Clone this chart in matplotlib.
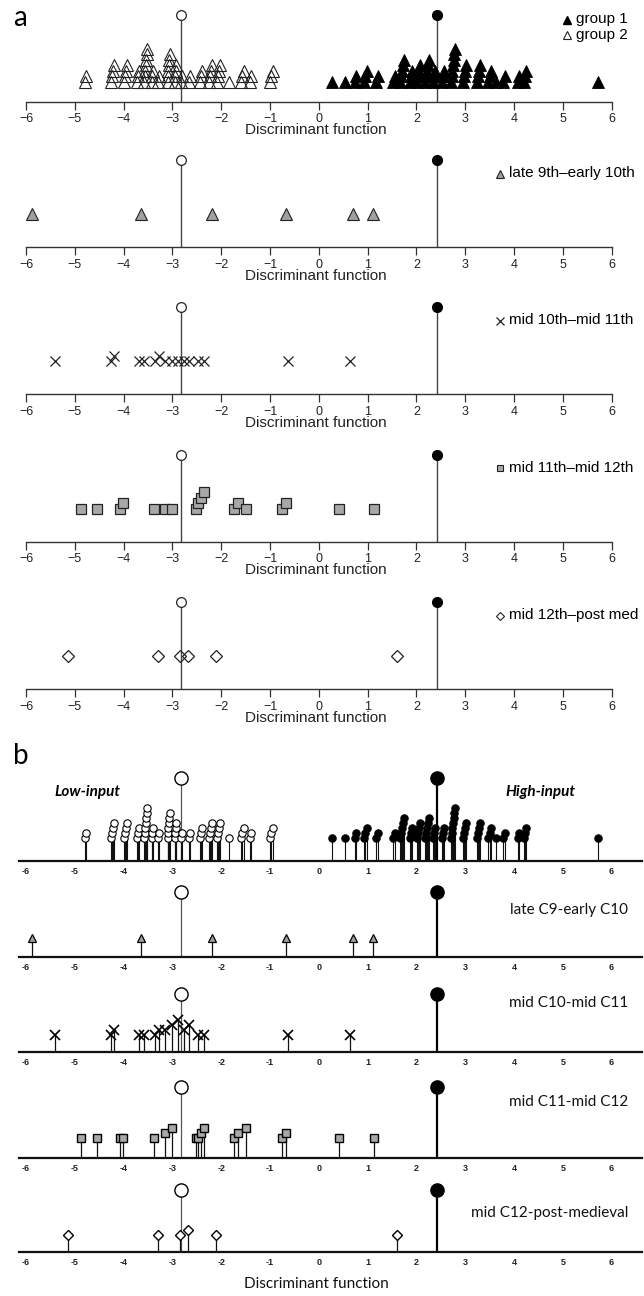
import numpy as np
import matplotlib
matplotlib.use("Agg")
import matplotlib.pyplot as plt

# ---------------- data ----------------
centroid_low = -2.83    # group 2 / low-input centroid
centroid_high = 2.42    # group 1 / high-input centroid

group1 = [0.28, 0.54, 0.74, 0.77, 0.92, 0.95, 0.98, 1.18, 1.22, 1.53, 1.56,
          1.66, 1.68, 1.70, 1.72, 1.74, 1.86, 1.88, 1.90, 2.01, 2.03, 2.05, 2.07,
          2.17, 2.19, 2.21, 2.23, 2.25, 2.35, 2.37, 2.39, 2.53, 2.55, 2.57,
          2.71, 2.72, 2.73, 2.75, 2.77, 2.78, 2.80, 2.95, 2.97, 2.99, 3.01,
          3.25, 3.27, 3.29, 3.31, 3.47, 3.50, 3.53, 3.63, 3.78, 3.81, 4.08, 4.11,
          4.21, 4.23, 4.25, 5.73]

group2 = [-4.80, -4.77, -4.25, -4.23, -4.21, -4.19, -4.00, -3.98, -3.96, -3.94,
          -3.72, -3.70, -3.68, -3.58, -3.57, -3.56, -3.55, -3.54, -3.53, -3.52,
          -3.42, -3.41, -3.40, -3.30, -3.28, -3.10, -3.09, -3.08, -3.07, -3.06,
          -3.05, -2.95, -2.94, -2.93, -2.92, -2.82, -2.80, -2.65, -2.63,
          -2.44, -2.42, -2.40, -2.24, -2.22, -2.20, -2.18, -2.08, -2.06, -2.04,
          -2.02, -1.83, -1.60, -1.57, -1.54, -1.42, -1.39, -1.00, -0.97, -0.94]

late9_early10 = [-5.87, -3.65, -2.18, -0.67, 0.70, 1.12]
mid10_mid11 = [-5.41, -4.26, -4.19, -3.69, -3.58, -3.36, -3.27, -3.16, -3.00,
               -2.88, -2.77, -2.65, -2.48, -2.36, -0.63, 0.64]
mid11_mid12 = [-4.88, -4.55, -4.08, -4.02, -3.37, -3.15, -3.00, -2.52, -2.47,
               -2.42, -2.36, -1.74, -1.66, -1.50, -0.75, -0.67, 0.41, 1.14]
mid12_post = [-5.14, -3.29, -2.85, -2.69, -2.10, 1.60]

# heights (levels) of the period points in panel b
late9_early10_lvl = [1, 1, 1, 1, 1, 1]
mid10_mid11_lvl = [1, 1, 2, 1, 1, 1, 2, 2, 3, 4, 2, 3, 1, 1, 1, 1]
mid11_mid12_lvl = [1, 1, 1, 1, 1, 2, 3, 1, 1, 2, 3, 1, 2, 3, 1, 2, 1, 1]
mid12_post_lvl = [1, 1, 1, 2, 1, 1]

tick_values = list(range(-6, 7))
a_tick_labels = ["\u2212%d" % -t if t < 0 else "%d" % t for t in tick_values]
b_tick_labels = ["%d" % t for t in tick_values]

a_period_labels = ["late 9th\u2013early 10th", "mid 10th\u2013mid 11th",
                   "mid 11th\u2013mid 12th", "mid 12th\u2013post med"]
b_period_labels = ["late C9-early C10", "mid C10-mid C11",
                   "mid C11-mid C12", "mid C12-post-medieval"]

# ---------------- layout ----------------
W, H = 644.0, 1296.0
X0_PX, UNIT_PX = 318.8, 48.8
XL = (-X0_PX / UNIT_PX, (W - X0_PX) / UNIT_PX)

A_BASE = [101.5, 247.0, 394.0, 541.5, 689.0]
B_BASE = [861.0, 957.0, 1052.0, 1158.0, 1252.0]
B_CENT_H = [83, 65, 58, 71, 62]
B_PT_BASE = [23, 19, 17, 20, 17]
B_LABEL_H = [None, 47, 49, 56, 39]

A_FONT = "Liberation Sans"
B_FONT = "Lato"

fig = plt.figure(figsize=(W / 100, H / 100), dpi=100)


def make_axes(baseline_px, height_px):
    ax = fig.add_axes([0, 1 - baseline_px / H, 1, height_px / H])
    ax.set_xlim(*XL)
    ax.set_ylim(0, height_px)
    ax.patch.set_alpha(0)
    for s in ("top", "left", "right"):
        ax.spines[s].set_visible(False)
    ax.set_yticks([])
    return ax


def stack_levels(values, gap=0.095):
    vals = np.asarray(values, float)
    order = np.argsort(vals, kind="stable")
    lv = np.zeros(len(vals), int)
    prev, k = None, 0
    for i in order:
        if prev is not None and vals[i] - prev < gap:
            k += 1
        else:
            k = 0
        lv[i] = k
        prev = vals[i]
    return lv


# ---------------- panel a ----------------
A_ROW, A_STEP, A_CENT = 33.0, 5.5, 87.0


def setup_a(ax):
    ax.spines["bottom"].set_bounds(-6, 6)
    ax.spines["bottom"].set_color("#333333")
    ax.spines["bottom"].set_linewidth(1.0)
    ax.set_xticks(tick_values)
    ax.set_xticklabels(a_tick_labels, fontsize=9, family=A_FONT, color="#222222")
    ax.tick_params(axis="x", length=5.4, width=0.9, pad=3.0, color="#333333")
    ax.vlines([centroid_low, centroid_high], 0, A_CENT, color="#444444", lw=1.0)
    ax.plot([centroid_low], [A_CENT], "o", ms=7, mfc="white", mec="#222222", mew=0.9)
    ax.plot([centroid_high], [A_CENT], "o", ms=7, mfc="black", mec="black")
    ax.text(-0.07, -29, "Discriminant function", ha="center", va="center",
            fontsize=11, family=A_FONT, color="#222222")


axes_a = [make_axes(b, 100.0) for b in A_BASE]

# a1: group 1 / group 2
ax = axes_a[0]
setup_a(ax)
g1 = np.array(group1)
g2 = np.array(group2)
ax.plot(g2, 20 + A_STEP * stack_levels(g2), "^", ms=8, mfc="none", mec="#222222",
        mew=0.8, ls="none")
ax.plot(g1, 20 + A_STEP * stack_levels(g1), "^", ms=8, mfc="black", mec="black",
        mew=0.6, ls="none")
ax.plot([5.08], [82], "^", ms=5.5, mfc="black", mec="black")
ax.text(5.28, 82, "group 1", ha="left", va="center", fontsize=11, family=A_FONT)
ax.plot([5.08], [66.5], "^", ms=5.5, mfc="none", mec="#222222", mew=0.8)
ax.text(5.28, 66.5, "group 2", ha="left", va="center", fontsize=11, family=A_FONT)
fig.text(13 / W, 1 - 26 / H, "a", fontsize=20, family=B_FONT, ha="left", va="baseline")

a_styles = [
    dict(marker="^", ms=8, mfc="#a0a0a0", mec="#222222", mew=0.8),
    dict(marker="x", ms=7.5, mec="#222222", mew=0.9),
    dict(marker="s", ms=6.8, mfc="#a8a8a8", mec="#222222", mew=0.9),
    dict(marker="D", ms=6.2, mfc="none", mec="#222222", mew=0.9),
]
legend_styles = [
    dict(marker="^", ms=5.5, mfc="#a0a0a0", mec="#222222", mew=0.8),
    dict(marker="x", ms=5.5, mec="#222222", mew=0.9),
    dict(marker="s", ms=4.8, mfc="#a8a8a8", mec="#222222", mew=0.8),
    dict(marker="D", ms=4.5, mfc="none", mec="#222222", mew=0.8),
]
periods = [late9_early10, mid10_mid11, mid11_mid12, mid12_post]
period_lvls = [late9_early10_lvl, mid10_mid11_lvl, mid11_mid12_lvl, mid12_post_lvl]

for i, (vals, lab) in enumerate(zip(periods, a_period_labels)):
    ax = axes_a[i + 1]
    setup_a(ax)
    v = np.array(vals)
    ax.plot(v, A_ROW + A_STEP * stack_levels(v, 0.095), ls="none", **a_styles[i])
    ax.plot([3.71], [73.5], ls="none", **legend_styles[i])
    ax.text(3.90, 73.5, lab, ha="left", va="center", fontsize=11, family=A_FONT)

# ---------------- panel b ----------------
B_STEP = 5.0


def setup_b(ax, k):
    ax.spines["bottom"].set_bounds(-6.15, 6.62)
    ax.spines["bottom"].set_color("#111111")
    ax.spines["bottom"].set_linewidth(1.6)
    ax.set_xticks(tick_values)
    ax.set_xticklabels(b_tick_labels, fontsize=6.5, fontweight="bold",
                       family="Liberation Sans", color="#222222")
    ax.tick_params(axis="x", length=0, pad=4.2)
    h = B_CENT_H[k]
    ax.vlines(centroid_low, 0, h, color="#555555", lw=0.9, zorder=2)
    ax.vlines(centroid_high, 0, h, color="black", lw=1.6, zorder=2)
    ax.plot([centroid_low], [h], "o", ms=9.5, mfc="white", mec="black", mew=1.0, zorder=4)
    ax.plot([centroid_high], [h], "o", ms=9.5, mfc="black", mec="black", zorder=4)


axes_b = [make_axes(b, 95.0) for b in B_BASE]

ax = axes_b[0]
setup_b(ax, 0)
for vals, fc in ((g2, "white"), (g1, "black")):
    y = B_PT_BASE[0] + B_STEP * stack_levels(vals)
    ax.vlines(vals, 0, y, color="#111111", lw=0.8, zorder=2)
    ax.plot(vals, y, "o", ms=5.3, mfc=fc, mec="black", mew=0.8, ls="none", zorder=3)
ax.text(-4.74, 69, "Low-input", ha="center", va="center", fontsize=11,
        family=B_FONT, fontweight="bold", fontstyle="italic")
ax.text(4.54, 69, "High-input", ha="center", va="center", fontsize=11,
        family=B_FONT, fontweight="bold", fontstyle="italic")
fig.text(13 / W, 1 - 764 / H, "b", fontsize=20, family=B_FONT, ha="left", va="baseline")

b_styles = [
    dict(marker="^", ms=6.2, mfc="#a0a0a0", mec="black", mew=0.9),
    dict(marker="x", ms=7.5, mec="black", mew=1.2),
    dict(marker="s", ms=6.2, mfc="#a8a8a8", mec="black", mew=1.0),
    dict(marker="D", ms=5.2, mfc="white", mec="black", mew=1.0),
]

for i, (vals, lvls, lab) in enumerate(zip(periods, period_lvls, b_period_labels)):
    ax = axes_b[i + 1]
    setup_b(ax, i + 1)
    v = np.array(vals)
    y = B_PT_BASE[i + 1] + B_STEP * (np.array(lvls) - 1)
    ax.vlines(v, 0, y, color="#111111", lw=0.9, zorder=2)
    ax.plot(v, y, ls="none", zorder=3, **b_styles[i])
    ax.text(6.34, B_LABEL_H[i + 1], lab, ha="right", va="center", fontsize=11,
            family=B_FONT, color="#111111")

axes_b[-1].text(-0.04, -32, "Discriminant function", ha="center", va="center",
                fontsize=11, family=B_FONT, color="#111111")

fig.savefig("out.png", dpi=100)
